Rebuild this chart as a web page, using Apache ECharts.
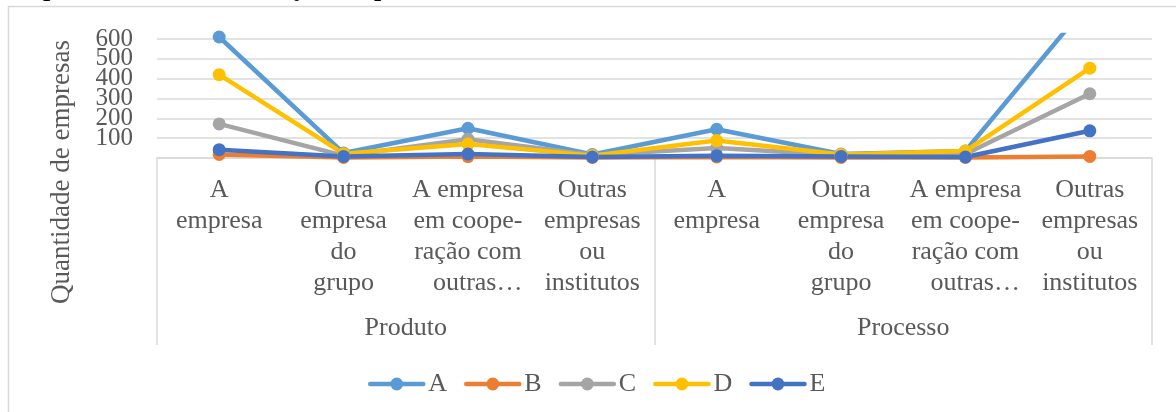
<!DOCTYPE html>
<html>
<head>
<meta charset="utf-8">
<script src="https://cdn.jsdelivr.net/npm/echarts@6/dist/echarts.min.js"></script>
<style>
  html, body { margin: 0; padding: 0; background: #ffffff; }
  #chart { width: 1176px; height: 412px; }
</style>
</head>
<body>
<div id="chart"></div>
<script>
// ---- data ----
const categories = [
  'A\nempresa',
  'Outra\nempresa\ndo\ngrupo',
  'A empresa\nem coope-\nração com\n\u00a0\u00a0\u00a0outras…',
  'Outras\nempresas\nou\ninstitutos',
  'A\nempresa',
  'Outra\nempresa\ndo\ngrupo',
  'A empresa\nem coope-\nração com\n\u00a0\u00a0\u00a0outras…',
  'Outras\nempresas\nou\ninstitutos'
];
const groups = ['Produto', 'Processo'];
const seriesNames = ['A', 'B', 'C', 'D', 'E'];
const valuesA = [610, 25, 150, 18, 145, 20, 35, 790];
const valuesB = [18, 3, 7, 3, 5, 3, 3, 8];
const valuesC = [172, 12, 95, 15, 50, 15, 20, 324];
const valuesD = [420, 22, 70, 12, 88, 18, 35, 453];
const valuesE = [42, 8, 20, 5, 11, 8, 5, 137];
const yTicks = [100, 200, 300, 400, 500, 600];
const yAxisTitle = 'Quantidade de empresas';

const colors = ['#5B9BD5', '#ED7D31', '#A5A5A5', '#FFC000', '#4472C4'];
const allValues = [valuesA, valuesB, valuesC, valuesD, valuesE];
const FONT = "'Liberation Serif', 'Times New Roman', serif";
const TXT = '#595959';

const chart = echarts.init(document.getElementById('chart'), null, { renderer: 'canvas' });

const series = seriesNames.map((n, i) => ({
  name: n,
  type: 'line',
  data: allValues[i],
  xAxisIndex: 0,
  symbol: 'circle',
  symbolSize: 13,
  lineStyle: { width: 4.5, color: colors[i], cap: 'round' },
  itemStyle: { color: colors[i] },
  emphasis: { disabled: true },
  animation: false
}));

chart.setOption({
  backgroundColor: '#ffffff',
  animation: false,
  grid: { left: 157, right: 24, top: 35, bottom: 254, containLabel: false },
  xAxis: [
    {
      type: 'category',
      data: categories,
      position: 'bottom',
      boundaryGap: true,
      axisLine: { show: true, lineStyle: { color: '#d9d9d9', width: 1.5 } },
      axisTick: { show: false },
      axisLabel: {
        interval: 0,
        margin: 17,
        color: TXT,
        fontFamily: FONT,
        fontSize: 26,
        lineHeight: 31,
        align: 'center'
      },
      splitLine: { show: false }
    },
    {
      type: 'category',
      data: groups,
      gridIndex: 0,
      position: 'bottom',
      offset: 0,
      boundaryGap: true,
      axisLine: { show: false },
      axisTick: { show: true, length: 187, lineStyle: { color: '#d9d9d9', width: 1.5 } },
      axisLabel: {
        interval: 0,
        margin: 155,
        color: TXT,
        fontFamily: FONT,
        fontSize: 26,
        lineHeight: 31
      },
      splitLine: { show: false }
    }
  ],
  yAxis: {
    type: 'value',
    min: 0,
    max: 620,
    interval: 100,
    axisLine: { show: false },
    axisTick: { show: false },
    axisLabel: {
      margin: 24,
      color: TXT,
      fontFamily: FONT,
      fontSize: 25,
      formatter: v => (yTicks.indexOf(v) >= 0 ? String(v) : '')
    },
    splitLine: {
      show: true,
      showMaxLine: false,
      lineStyle: {
        color: ['#d9d9d9', '#d9d9d9', '#d9d9d9', '#d9d9d9', '#d9d9d9', '#d9d9d9', '#d9d9d9', 'rgba(0,0,0,0)'],
        width: 1.5
      }
    }
  },
  legend: {
    data: seriesNames,
    left: 363,
    top: 366,
    itemWidth: 53,
    itemHeight: 16,
    itemGap: 17,
    lineStyle: { width: 4.5, cap: 'round' },
    itemStyle: { borderWidth: 0 },
    textStyle: { color: TXT, fontFamily: FONT, fontSize: 26 },
    selectedMode: false
  },
  graphic: [
    {
      type: 'rect',
      silent: true,
      shape: { x: 8.5, y: 6.5, width: 1200, height: 500 },
      style: { fill: 'none', stroke: '#d9d9d9', lineWidth: 1.5 },
      z: -10
    },
    {
      type: 'text',
      silent: true,
      x: 62,
      y: 172,
      rotation: Math.PI / 2,
      style: {
        text: yAxisTitle,
        fill: TXT,
        font: "27px 'Liberation Serif', serif",
        align: 'center',
        verticalAlign: 'middle'
      }
    },
    { type: 'text', silent: true, x: 43, y: -11, style: { text: 'p', fill: '#000', font: "bold 26px 'Liberation Serif', serif", align: 'left', verticalAlign: 'middle' } },
    { type: 'text', silent: true, x: 291, y: -11, style: { text: 'ç', fill: '#000', font: "bold 26px 'Liberation Serif', serif", align: 'left', verticalAlign: 'middle' } },
    { type: 'text', silent: true, x: 374, y: -11, style: { text: 'p', fill: '#000', font: "bold 26px 'Liberation Serif', serif", align: 'left', verticalAlign: 'middle' } }
  ],
  series: series
});
</script>
</body>
</html>
